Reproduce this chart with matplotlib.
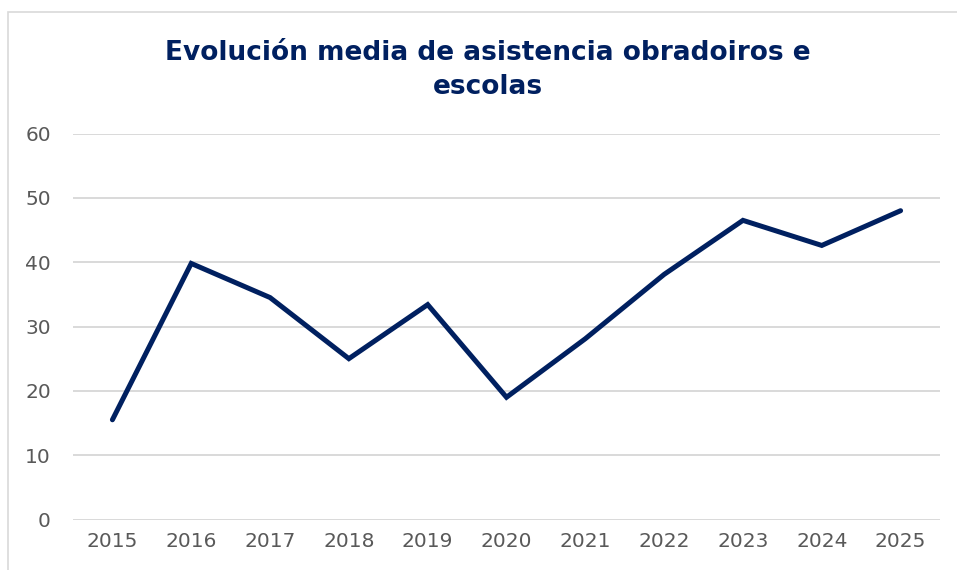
import matplotlib
matplotlib.use('Agg')
import matplotlib.pyplot as plt
from matplotlib.patches import Rectangle

years = ['2015', '2016', '2017', '2018', '2019', '2020', '2021', '2022', '2023', '2024', '2025']
asistencia = [15.5, 39.8, 34.5, 25.0, 33.4, 19.0, 28.1, 38.1, 46.5, 42.6, 48.0]
yticks = [0, 10, 20, 30, 40, 50, 60]

navy = '#002060'
grey_text = '#595959'
grid_col = '#d9d9d9'

plt.rcParams['font.family'] = ['DejaVu Sans']

fig = plt.figure(figsize=(9.57, 5.7), dpi=100)

# borde do gráfico (recortado á dereita e abaixo)
fig.patches.append(Rectangle((8 / 957, -0.1), 1.2, 1 - 12 / 570 + 0.1,
                             transform=fig.transFigure, fill=False,
                             edgecolor='#d9d9d9', linewidth=1.2))

ax = fig.add_axes([73 / 957, 1 - 519.5 / 570, (940 - 73) / 957, (519 - 133) / 570])

x = list(range(len(years)))
ax.plot(x, asistencia, color=navy, linewidth=3.6, solid_joinstyle='miter',
        solid_capstyle='round', zorder=3)

ax.set_xlim(-0.5, len(years) - 0.5)
ax.set_ylim(0, 60)
ax.set_yticks(yticks)
ax.set_xticks(x)
ax.set_xticklabels(years)
ax.grid(axis='y', color=grid_col, linewidth=1.4)
ax.set_axisbelow(True)
for s in ax.spines.values():
    s.set_visible(False)
ax.tick_params(length=0, labelsize=14.5, colors=grey_text, pad=9)
ax.tick_params(axis='y', pad=16)

fig.text(0.51, 0.877, 'Evolución media de asistencia obradoiros e\nescolas',
         ha='center', va='center', fontsize=19, fontweight='bold', color=navy,
         linespacing=1.4)

fig.savefig('out.png', dpi=100)
